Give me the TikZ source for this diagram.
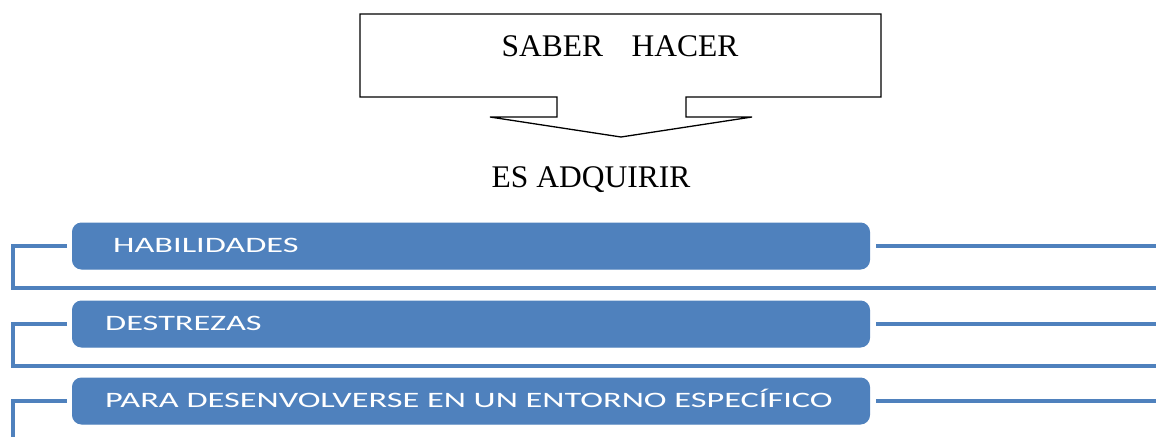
\documentclass[tikz,border=0pt]{standalone}
\usepackage{fontspec}
\setmainfont{Liberation Serif}
\newfontfamily\boxfont[FakeStretch=1.56]{Carlito}
\definecolor{sablue}{HTML}{4F81BD}
\begin{document}
\begin{tikzpicture}[x=1pt,y=-1pt,
  itembox/.style={draw=sablue, fill=sablue, rounded corners=9pt, line width=1pt,
    minimum width=797pt, minimum height=46pt, inner sep=0pt},
  itemtext/.style={text=white, font=\boxfont\fontsize{22}{26}\selectfont, anchor=base west, inner sep=0pt},
  link/.style={draw=sablue, line width=4pt},
  serif/.style={font=\fontsize{31.5}{36}\selectfont, inner sep=0pt, anchor=base}]
\useasboundingbox (0,0) rectangle (1156,437);
% top box with downward arrow
\draw[black, line width=1.3pt, line join=miter]
  (360,14) -- (881,14) -- (881,97) -- (686,97) -- (686,117) -- (752,117)
  -- (621,137) -- (490,117) -- (557,117) -- (557,97) -- (360,97) -- cycle;
\node[serif] (saber) at (620,56) {SABER\hspace{0.9em}HACER};
\node[serif] (es) at (591,187) {ES ADQUIRIR};
% items
\node[itembox] (b1) at (471,246) {};
\node[itembox] (b2) at (471,324) {};
\node[itembox] (b3) at (471,401) {};
\node[itemtext] (t1) at (113,252) {HABILIDADES};
\node[itemtext] (t2) at (105,330) {DESTREZAS};
\node[itemtext] (t3) at (105,407) {PARA DESENVOLVERSE EN UN ENTORNO ESPECÍFICO};
% connectors
\coordinate (r1) at (1156,246);
\coordinate (r2) at (1156,324);
\coordinate (r3) at (1156,401);
\coordinate (l1) at (12.5,246);
\coordinate (l2) at (12.5,324);
\coordinate (l3) at (12.5,401);
\coordinate (e1) at (1156,288);
\coordinate (e2) at (1156,366);
\coordinate (e3) at (12.5,437);
\draw[link, line join=miter] ([xshift=-5pt]b1.west) -- (l1) |- (e1);
\draw[link, line join=miter] ([xshift=-5pt]b2.west) -- (l2) |- (e2);
\draw[link, line join=miter] ([xshift=-5pt]b3.west) -- (l3) -- (e3);
\draw[link] ([xshift=6pt]b1.east) -- (r1);
\draw[link] ([xshift=6pt]b2.east) -- (r2);
\draw[link] ([xshift=6pt]b3.east) -- (r3);
\end{tikzpicture}
\end{document}
